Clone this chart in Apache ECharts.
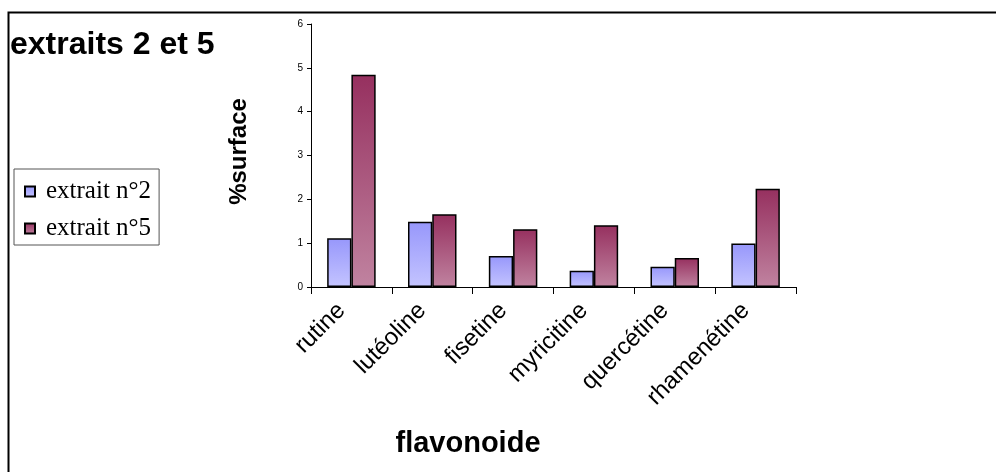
<!DOCTYPE html>
<html>
<head>
<meta charset="utf-8">
<script src="https://cdn.jsdelivr.net/npm/echarts@6/dist/echarts.min.js"></script>
<style>
  html, body { margin: 0; padding: 0; background: #ffffff; }
  #chart { width: 996px; height: 472px; }
</style>
</head>
<body>
<div id="chart"></div>
<script>
// Flavonoid peak areas (% surface) for the two extracts
var categories = ['rutine', 'lutéoline', 'fisetine', 'myricitine', 'quercétine', 'rhamenétine'];
var extrait2 = [1.11, 1.49, 0.71, 0.37, 0.46, 0.99];
var extrait5 = [4.84, 1.66, 1.32, 1.41, 0.66, 2.24];
var seriesNames = ['extrait n°2', 'extrait n°5'];
var yTicks = { min: 0, max: 6, interval: 1 };

var SANS = '"Liberation Sans", Arial, sans-serif';
var SERIF = '"Liberation Serif", "Times New Roman", serif';

function vGrad(top, bottom) {
  return new echarts.graphic.LinearGradient(0, 0, 0, 1, [
    { offset: 0, color: top },
    { offset: 1, color: bottom }
  ]);
}

var chart = echarts.init(document.getElementById('chart'), null, { renderer: 'canvas' });

chart.setOption({
  animation: false,
  backgroundColor: '#ffffff',
  graphic: [
    {
      type: 'rect',
      shape: { x: 8.5, y: 12.5, width: 1000, height: 500 },
      style: { fill: 'none', stroke: '#000000', lineWidth: 2 },
      z: 0
    },
    {
      type: 'text',
      left: 10,
      top: 29,
      style: { text: 'extraits 2 et 5', font: 'bold 32px ' + SANS, fill: '#000000' }
    }
  ],
  legend: {
    orient: 'vertical',
    left: 14,
    top: 169,
    padding: [10, 8, 4, 10],
    itemGap: 12,
    itemWidth: 10,
    itemHeight: 10,
    icon: 'rect',
    borderColor: '#555555',
    borderWidth: 1,
    textStyle: { fontFamily: SERIF, fontSize: 25, color: '#000000', padding: [0, 0, 0, 6] },
    data: seriesNames
  },
  grid: { left: 311, right: 200, top: 24, bottom: 185, containLabel: false },
  xAxis: {
    type: 'category',
    data: categories,
    name: 'flavonoide',
    nameLocation: 'middle',
    nameGap: 142,
    nameTextStyle: { fontFamily: SANS, fontSize: 29, fontWeight: 'bold', color: '#000000', padding: [0, 0, 0, -171] },
    axisLine: { lineStyle: { color: '#000000', width: 1 } },
    axisTick: { show: true, alignWithLabel: false, length: 7, lineStyle: { color: '#000000' } },
    axisLabel: {
      rotate: 45,
      interval: 0,
      margin: 10,
      padding: [0, 14, 0, 0],
      fontFamily: SANS,
      fontSize: 24,
      color: '#000000'
    }
  },
  yAxis: {
    type: 'value',
    min: yTicks.min,
    max: yTicks.max,
    interval: yTicks.interval,
    name: '%surface',
    nameLocation: 'middle',
    nameGap: 60,
    nameRotate: 90,
    nameTextStyle: { fontFamily: SANS, fontSize: 24, fontWeight: 'bold', color: '#000000', padding: [0, 0, 0, 8] },
    axisLine: { show: true, lineStyle: { color: '#000000', width: 1 } },
    axisTick: { show: true, length: 4, lineStyle: { color: '#000000' } },
    splitLine: { show: false },
    axisLabel: { fontFamily: SANS, fontSize: 10, color: '#000000', margin: 8 }
  },
  series: [
    {
      name: seriesNames[0],
      type: 'bar',
      data: extrait2,
      barGap: '0%',
      barCategoryGap: '40%',
      itemStyle: {
        color: vGrad('#9797fb', '#c4c4ff'),
        borderColor: '#000000',
        borderWidth: 1.5
      }
    },
    {
      name: seriesNames[1],
      type: 'bar',
      data: extrait5,
      barGap: '0%',
      barCategoryGap: '40%',
      itemStyle: {
        color: vGrad('#96305f', '#c083a0'),
        borderColor: '#000000',
        borderWidth: 1.5
      }
    }
  ]
});
</script>
</body>
</html>
